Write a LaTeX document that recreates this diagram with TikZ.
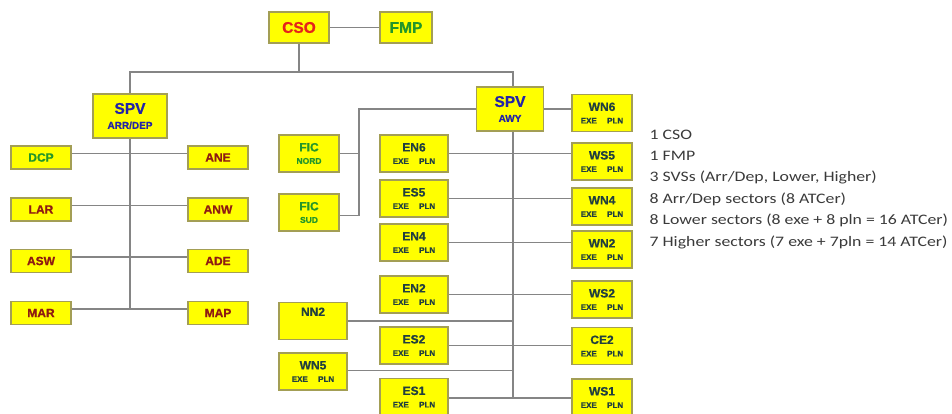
\documentclass[tikz,border=0pt]{standalone}
\usepackage{fontspec}
\setmainfont{LiberationSans}[Extension=.ttf, UprightFont=*-Regular, BoldFont=*-Bold, BoldFeatures={FakeBold=0.8}]
\newfontfamily\carlito{Carlito}[FakeStretch=1.225]
\definecolor{boxfill}{HTML}{FFFF00}
\definecolor{boxrim}{HTML}{A39E55}
\definecolor{linegray}{HTML}{858585}
\definecolor{csored}{HTML}{E5231B}
\definecolor{fmpgreen}{HTML}{23962A}
\definecolor{spvblue}{HTML}{2323A8}
\definecolor{arrred}{HTML}{8E1B12}
\definecolor{secdark}{HTML}{213F3F}
\definecolor{listgray}{HTML}{3A3A3A}
\newcommand{\ep}{\\{\fontsize{8}{8}\selectfont EXE\hspace{1.3em}PLN}}
\begin{document}
\begin{tikzpicture}[x=1pt, y=-1pt,
  every node/.style={draw=boxrim, fill=boxfill, line width=1.3pt, inner sep=0pt, align=center},
  top/.style={minimum height=31pt, font=\bfseries\fontsize{15.5}{16}\selectfont},
  spv/.style={minimum height=44pt, text=spvblue, font=\bfseries\fontsize{15.5}{15}\selectfont},
  arr/.style={minimum width=60pt, minimum height=23pt, text=arrred, font=\bfseries\fontsize{12}{12}\selectfont},
  sec/.style={minimum width=68pt, minimum height=37pt, text=secdark, font=\bfseries\fontsize{12}{12.5}\selectfont},
  link/.style={draw=linegray, line width=1.3pt}]
\useasboundingbox (0,0) rectangle (952,414);

\node[top, minimum width=60pt, text=csored] (cso) at (299,27.5) {CSO};
\node[top, minimum width=52pt, text=fmpgreen] (fmp) at (406,27.5) {FMP};
\node[spv, minimum width=74pt] (spva) at (130,116) {SPV\\{\fontsize{10}{10}\selectfont ARR/DEP}};
\node[spv, minimum width=67pt] (spvb) at (510,109) {SPV\\{\fontsize{10}{10}\selectfont AWY}};

\node[arr, text=fmpgreen] (dcp) at (41,157.5) {DCP};
\node[arr] (lar) at (41,209.5) {LAR};
\node[arr] (asw) at (41,261) {ASW};
\node[arr] (mar) at (41,313) {MAR};
\node[arr] (ane) at (218,157.5) {ANE};
\node[arr] (anw) at (218,209.5) {ANW};
\node[arr] (ade) at (218,261) {ADE};
\node[arr] (map) at (218,313) {MAP};

\node[sec, minimum width=60pt, text=fmpgreen] (ficn) at (309,153.5) {FIC\\{\fontsize{8.5}{8.5}\selectfont NORD}};
\node[sec, minimum width=60pt, text=fmpgreen] (fics) at (309,212.5) {FIC\\{\fontsize{8.5}{8.5}\selectfont SUD}};
\node[sec] (nn2) at (313,321) {NN2\\[6pt]};
\node[sec] (wn5) at (313,371.5) {WN5\ep};

\node[sec] (en6) at (414,153.5) {EN6\ep};
\node[sec] (es5) at (414,198.5) {ES5\ep};
\node[sec] (en4) at (414,242.5) {EN4\ep};
\node[sec] (en2) at (414,294.5) {EN2\ep};
\node[sec] (es2) at (414,345.5) {ES2\ep};
\node[sec] (es1) at (414,397) {ES1\ep};

\node[sec, minimum width=60pt] (wn6) at (602,113) {WN6\ep};
\node[sec, minimum width=60pt] (ws5) at (602,161.5) {WS5\ep};
\node[sec, minimum width=60pt] (wn4) at (602,206.5) {WN4\ep};
\node[sec, minimum width=60pt] (wn2) at (602,249.5) {WN2\ep};
\node[sec, minimum width=60pt] (ws2) at (602,299.5) {WS2\ep};
\node[sec, minimum width=60pt] (ce2) at (602,346) {CE2\ep};
\node[sec, minimum width=60pt] (ws1) at (602,397.5) {WS1\ep};

\node[draw=none, fill=none, anchor=north west, align=left, text=listgray,
  font=\carlito\fontsize{14.5}{21.4}\selectfont] (tally) at (649,129) {1 CSO\\1 FMP\\3 SVSs (Arr/Dep, Lower, Higher)\\8 Arr/Dep sectors (8 ATCer)\\8 Lower sectors (8 exe + 8 pln = 16 ATCer)\\7 Higher sectors (7 exe + 7pln = 14 ATCer)};

\coordinate (ja) at (130,72);
\coordinate (jb) at (513,72);
\coordinate (aend) at (130,309);
\coordinate (bend) at (513,398);
\coordinate (fj) at (359,109);

\draw[link] (cso) -- (fmp);
\draw[link] (cso.south) -- (cso.south |- ja);
\draw[link] (spva.north) -- (ja) -- (jb) -- (jb |- spvb.north);
\draw[link] (spva.south) -- (aend);
\draw[link] (jb |- spvb.south) -- (bend);

\draw[link] ([yshift=4pt]dcp.east) -- ([yshift=4pt]ane.west);
\draw[link] ([yshift=4pt]lar.east) -- ([yshift=4pt]anw.west);
\draw[link] ([yshift=4pt]asw.east) -- ([yshift=4pt]ade.west);
\draw[link] ([yshift=4pt]mar.east) -- ([yshift=4pt]map.west);

\draw[link] (spvb.west) -- (fj) -- ([yshift=-3pt]fics.east -| fj) -- ([yshift=-3pt]fics.east);
\draw[link] (ficn.east) -- (ficn.east -| fj);
\draw[link] (nn2.east) -- (nn2.east -| bend);
\draw[link] ([yshift=1pt]wn5.east) -- ([yshift=1pt]wn5.east -| bend);

\draw[link] (spvb.east) -- (spvb.east -| wn6.west);
\draw[link] (en6.east) -- (en6.east -| ws5.west);
\draw[link] (es5.east) -- (es5.east -| wn4.west);
\draw[link] (en4.east) -- (en4.east -| wn2.west);
\draw[link] (en2.east) -- (en2.east -| ws2.west);
\draw[link] (es2.east) -- (es2.east -| ce2.west);
\draw[link] ([yshift=-1pt]es1.east) -- ([yshift=-1pt]es1.east -| ws1.west);
\end{tikzpicture}
\end{document}
